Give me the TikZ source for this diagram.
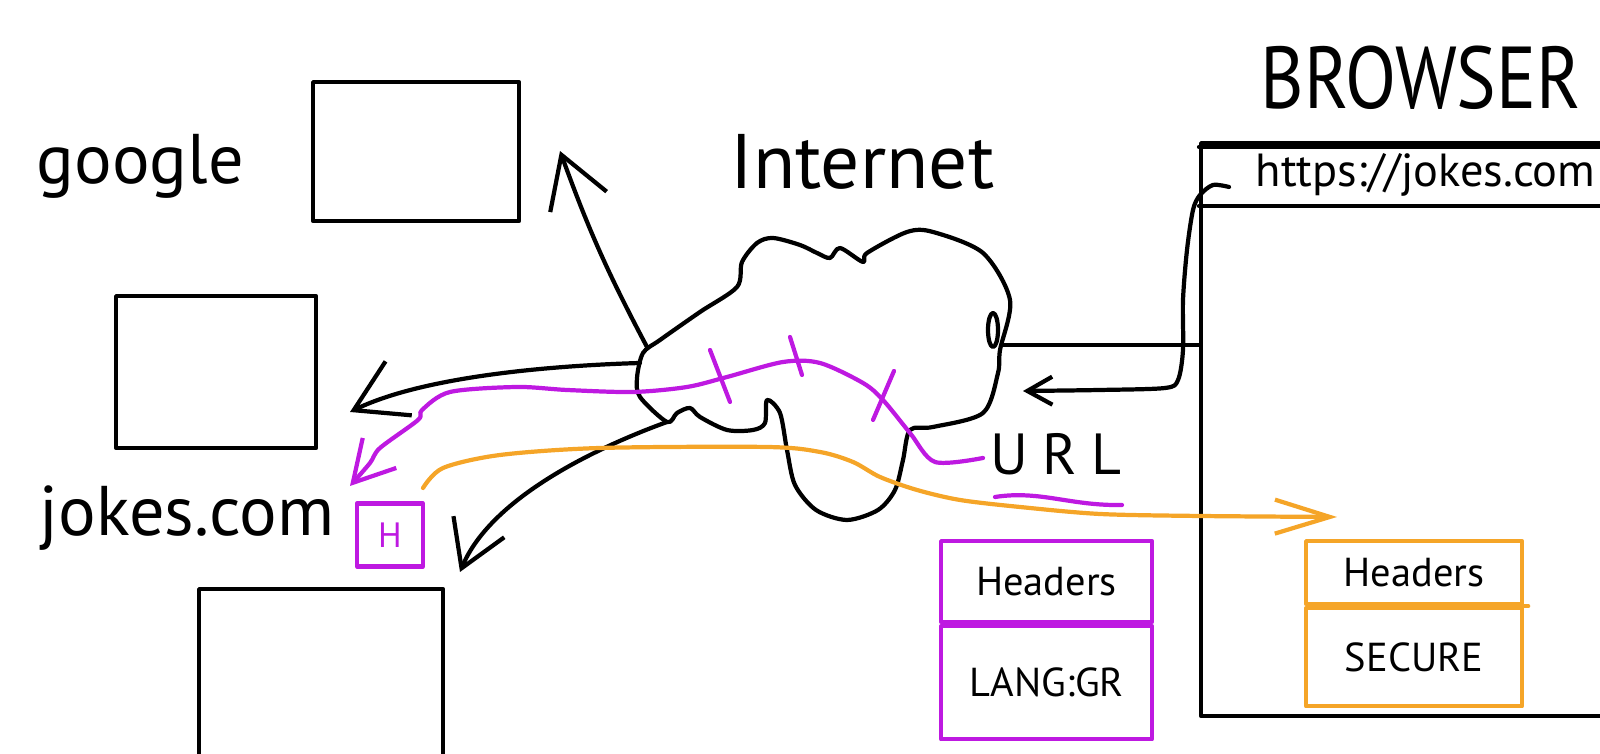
\documentclass[tikz,border=0pt]{standalone}
\usepackage{fontspec}
\setmainfont{PT Sans}
\usepackage{tikz}
\usetikzlibrary{arrows.meta,positioning}

\definecolor{penpurple}{RGB}{190,25,225}
\definecolor{penorange}{RGB}{245,165,40}

\tikzset{
  pen/.style={line width=1.2pt, line cap=round, line join=round},
  box/.style={pen, draw, inner sep=0pt},
  bigtext/.style={font=\fontsize{20}{24}\selectfont},
  midtext/.style={font=\fontsize{13.2}{16}\selectfont},
  smalltext/.style={font=\fontsize{11.5}{14}\selectfont},
  barb/.style={-{Straight Barb[length=5mm,width=6mm]}},
}

\begin{document}
\begin{tikzpicture}[x=0.1mm,y=-0.1mm]
                \tikzstyle{every node}+=[inner sep=0pt]
                \useasboundingbox (0,0) rectangle (1600,754);
                % servers on the left
                \node[box, minimum width=20.6mm, minimum height=13.9mm, anchor=north west] (google) at (311,80) {};
                \node[box, minimum width=20.0mm, minimum height=15.2mm, anchor=north west] (other) at (114,294) {};
                \node[box, minimum width=24.4mm, minimum height=20mm, anchor=north west] (jokes) at (197,587) {};
                \node[bigtext, anchor=base west] (googlelabel) at (36,184) {google};
                \node[bigtext, anchor=base west] (jokeslabel) at (39,536) {jokes.com};
                \node[bigtext, font=\fontsize{22}{26}\selectfont, anchor=base west] (netlabel) at (730,189) {Internet};
                % browser window
                \node[box, minimum width=41.1mm, minimum height=57.3mm, anchor=north west] (browser) at (1199,141) {};
                \draw[pen] (1199,147) -- (1610,147);
                \draw[pen] (1199,206) -- (1610,206);
                \node[bigtext, font=\fontsize{25}{30}\selectfont, anchor=base west] (browserlabel) at (1260,109) {\scalebox{0.85}[1]{BROWSER}};
                \node[midtext, anchor=base west] (address) at (1255,187) {https://jokes.com};
                % the cloud
                \draw[pen] plot[smooth cycle, tension=0.5] coordinates {(643,353) (660,340) (700,312) (737,287) (742,262) (757,243) (773,238) (800,245) (817,253) (830,258) (840,248) (863,262) (867,253) (907,232) (933,232) (983,253) (1010,300) (1000,350) (998,373) (983,413) (933,427) (910,430) (903,460) (895,490) (878,510) (847,520) (816,510) (795,485) (787,450) (780,413) (767,400) (765,423) (753,430) (727,430) (700,417) (690,408) (677,413) (667,422) (640,397) (637,378)};
                \draw[pen] (993,330) ellipse (5 and 17);
                \coordinate (cloudnw) at (647,347);
                \coordinate (cloudw) at (640,363);
                \coordinate (cloudsw) at (667,422);
                \coordinate (cloude) at (1003,345);
                \coordinate (googletip) at (560,151);
                \coordinate (othertip) at (350,412);
                \coordinate (jokestip) at (460,572);
                \coordinate (addr) at (1229,187);
                \coordinate (cloudtip) at (1023,391);
                % requests out of the cloud
                \draw[pen, barb] (cloudnw) to[bend left=4] (googletip);
                \draw[pen, barb] (cloudw) .. controls (540,366) and (420,378) .. (othertip);
                \draw[pen, -{Straight Barb[length=4.5mm,width=5.5mm]}] (cloudsw) .. controls (590,450) and (490,500) .. (jokestip);
                \draw[pen] (cloude) -- (browser.west |- cloude);
                \draw[pen, -{Straight Barb[length=2.5mm,width=2.8mm]}] plot[smooth, tension=0.5] coordinates {(addr) (1213,185) (1200,195) (1193,210) (1187,250) (1183,300) (1183,350) (1178,380) (1165,388) (1100,390) (cloudtip)};
                % URL and request
                \node[font=\fontsize{16.5}{20}\selectfont\addfontfeature{LetterSpace=25}, anchor=base] (url) at (1056,475) {URL};
                \coordinate (urlsrc) at (983,458);
                \coordinate (purpletip) at (350,486);
                \draw[pen, penpurple] (995,497) .. controls (1040,490) and (1070,506) .. (1122,505);
                \draw[pen, penpurple, -{Straight Barb[length=4mm,width=4.5mm]}] plot[smooth, tension=0.5] coordinates {(urlsrc) (935,462) (910,433) (883,400) (863,383) (820,363) (783,362) (727,377) (687,387) (633,392) (567,390) (517,387) (450,392) (422,410) (418,420) (380,448) (370,463) (purpletip)};
                \draw[pen, penpurple] (710,350) -- (730,402);
                \draw[pen, penpurple] (790,337) -- (802,375);
                \draw[pen, penpurple] (894,371) -- (873,420);
                \node[box, draw=penpurple, minimum width=6.6mm, minimum height=6.3mm, text=penpurple, font=\fontsize{10}{12}\selectfont] (hbox) at (390,535) {H};
                \node[box, draw=penpurple, minimum width=21.1mm, minimum height=8.1mm, anchor=north west, smalltext] (reqhead) at (939,539) {Headers};
                \node[box, draw=penpurple, minimum width=21.1mm, minimum height=11.3mm, below=0pt of reqhead, smalltext] (reqlang) {LANG:GR};
                % response
                \coordinate (hsrc) at (423,488);
                \coordinate (orangetip) at (1337,517);
                \draw[pen, penorange, -{Straight Barb[length=5.5mm,width=3.4mm]}] plot[smooth, tension=0.5] coordinates {(hsrc) (443,468) (500,455) (600,448) (767,447) (820,452) (853,462) (880,477) (917,490) (960,500) (1020,507) (1100,514) (1200,516) (orangetip)};
                \node[box, draw=penorange, minimum width=21.6mm, minimum height=6.3mm, anchor=north west, smalltext] (resphead) at (1304,539) {Headers};
                \node[box, draw=penorange, minimum width=21.6mm, minimum height=9.8mm, below=0pt of resphead, smalltext] (respsecure) {SECURE};
                \draw[pen, penorange] (resphead.south east) -- ++(4,0);
\end{tikzpicture}
\end{document}
